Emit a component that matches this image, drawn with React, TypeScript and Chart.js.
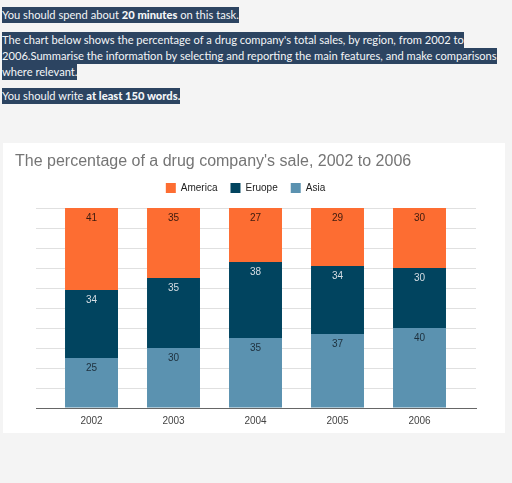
import React, { useEffect, useRef } from "react";
import { Chart, registerables } from "chart.js";

Chart.register(...registerables);

const years = ["2002", "2003", "2004", "2005", "2006"];
const america = [41, 35, 27, 29, 30];
const europe = [34, 35, 38, 34, 30];
const asia = [25, 30, 35, 37, 40];

const seriesNames = ["Asia", "Eruope", "America"];
const seriesColors = ["#5b92b0", "#01445f", "#fd6d32"];
const labelColors = ["#1d2f3c", "#d6dde3", "#3b1a0e"];

const titleText = "The percentage of a drug company's sale, 2002 to 2006";

const legendSpacer = {
  id: "legendSpacer",
  beforeInit(chart: any) {
    const legend = chart.legend;
    if (!legend) return;
    const orig = legend.fit;
    legend.fit = function () {
      orig.call(this);
      this.height += 5;
    };
  },
};

const valueLabels = {
  id: "valueLabels",
  afterDatasetsDraw(chart: any) {
    const ctx = chart.ctx;
    ctx.save();
    ctx.font = "10px 'Liberation Sans', Arial, sans-serif";
    ctx.textAlign = "center";
    ctx.textBaseline = "middle";
    chart.data.datasets.forEach((ds: any, di: number) => {
      const meta = chart.getDatasetMeta(di);
      meta.data.forEach((bar: any, i: number) => {
        ctx.fillStyle = labelColors[di];
        ctx.fillText(String(ds.data[i].y), bar.x, bar.y + 10);
      });
    });
    ctx.restore();
  },
};

function ChartBox() {
  const ref = useRef<HTMLCanvasElement>(null);
  useEffect(() => {
    if (!ref.current) return;
    const chart = new Chart(ref.current, {
      type: "bar",
      data: {
        datasets: [asia, europe, america].map((d, i) => ({
          label: seriesNames[i],
          data: d.map((v, k) => ({ x: k + 1, y: v })),
          backgroundColor: seriesColors[i],
          borderWidth: 0,
          barPercentage: 0.646,
          categoryPercentage: 1,
        })),
      },
      options: {
        animation: false,
        responsive: false,
        devicePixelRatio: 1,
        layout: { padding: { left: 12, right: 29, top: 0, bottom: 1 } },
        plugins: {
          tooltip: { enabled: false },
          title: {
            display: true,
            text: titleText,
            align: "start",
            color: "#757575",
            font: { family: "'Liberation Sans', Arial, sans-serif", size: 16, weight: "normal", lineHeight: 1 },
            padding: { top: 11, bottom: 0 },
          },
          legend: {
            display: true,
            reverse: true,
            labels: {
              boxWidth: 10,
              boxHeight: 10,
              padding: 13,
              color: "#222",
              font: { family: "'Liberation Sans', Arial, sans-serif", size: 10 },
            },
          },
        },
        scales: {
          x: {
            type: "linear",
            stacked: true,
            min: 0.323,
            max: 5.689,
            offset: false,
            afterBuildTicks: (scale: any) => {
              scale.ticks = years.map((_, i) => ({ value: i + 1 }));
            },
            grid: { display: false, drawTicks: false },
            border: { display: true, color: "#666", width: 1 },
            ticks: {
              color: "#444",
              padding: 7,
              autoSkip: false,
              maxRotation: 0,
              callback: (v: any) => years[Math.round(Number(v)) - 1] ?? "",
              font: { family: "'Liberation Sans', Arial, sans-serif", size: 10 },
            },
          },
          y: {
            stacked: true,
            min: 0,
            max: 100,
            afterFit: (scale: any) => {
              scale.width = 21;
            },
            ticks: { display: false, stepSize: 10 },
            grid: { color: "#e0e0e0", drawTicks: false },
            border: { display: false },
          },
        },
      },
      plugins: [legendSpacer, valueLabels],
    } as any);
    return () => chart.destroy();
  }, []);
  return <canvas ref={ref} width={502} height={292} style={{ display: "block" }} />;
}

const hl: React.CSSProperties = {
  display: "inline-block",
  background: "#2c4461",
  color: "#f4f6f8",
  lineHeight: "16px",
  height: 16,
  whiteSpace: "nowrap",
};

function Line({ children }: { children: React.ReactNode }) {
  return (
    <div style={{ height: 16 }}>
      <span style={hl}>{children}</span>
    </div>
  );
}

export default function App() {
  return (
    <div
      style={{
        position: "fixed",
        inset: 0,
        background: "#f4f4f4",
        fontFamily: "Lato, 'Open Sans', sans-serif",
        fontSize: 11.15,
      }}
    >
      <div style={{ position: "absolute", left: 2, top: 7 }}>
        <Line>
          You should spend about <b style={{ fontWeight: 900 }}>20 minutes</b> on this task.
        </Line>
        <div style={{ height: 9 }} />
        <Line>The chart below shows the percentage of a drug company's total sales, by region, from 2002 to</Line>
        <Line>2006.Summarise the information by selecting and reporting the main features, and make comparisons</Line>
        <Line>where relevant.</Line>
        <div style={{ height: 8 }} />
        <Line>
          You should write <b style={{ fontWeight: 900 }}>at least 150 words.</b>
        </Line>
      </div>
      <div
        style={{
          position: "absolute",
          left: 3,
          top: 143,
          width: 502,
          height: 290,
          background: "#ffffff",
        }}
      >
        <div style={{ position: "absolute", left: 0, top: 0 }}>
          <ChartBox />
        </div>
      </div>
    </div>
  );
}
